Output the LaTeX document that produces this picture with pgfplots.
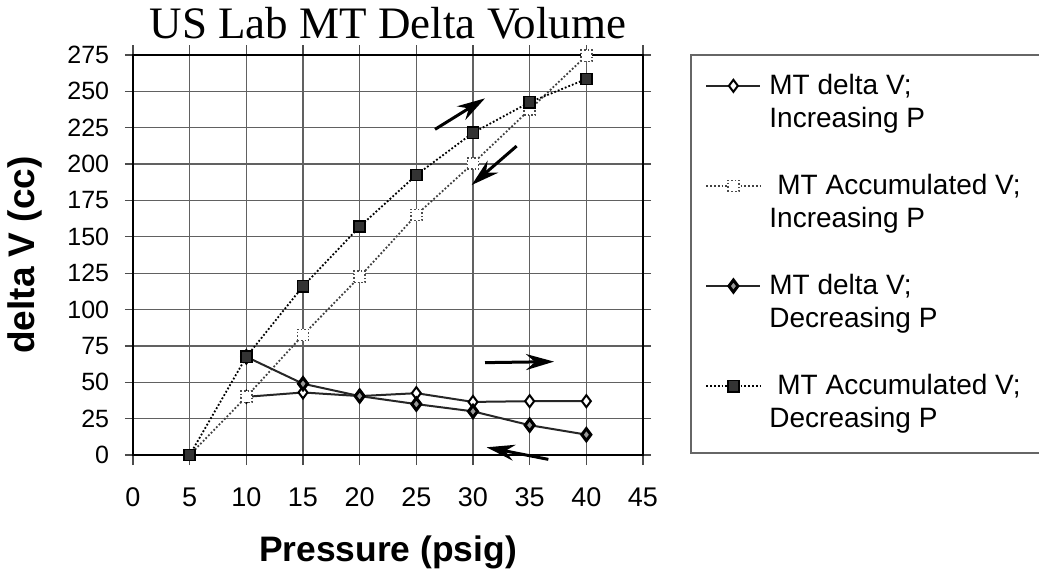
\documentclass[border=0pt]{standalone}
\usepackage{pgfplots}
\pgfplotsset{compat=1.18}
\usepackage{fontspec}
\setmainfont{Liberation Sans}
\newfontfamily\seriffont{Liberation Serif}
\usetikzlibrary{arrows.meta}
\newcommand{\lgtwo}[3]{\vtop{\hbox{\hspace*{#3}#1}\hbox{#2}}}
\begin{document}
\begin{tikzpicture}
\path[use as bounding box] (-66.5pt,-57.5pt) rectangle (453pt,227.5pt);
\begin{axis}[
  at={(0,0)}, anchor=south west,
  scale only axis, width=255pt, height=200pt,
  xmin=0, xmax=45, ymin=0, ymax=275,
  xtick={0,5,...,45}, ytick={0,25,...,275},
  grid=major,
  major grid style={black!62, line width=0.6pt},
  axis line style={black, line width=1.3pt},
  tick align=outside,
  xtick style={black!70, line width=0.6pt, /pgfplots/major tick length=5pt},
  ytick style={black!70, line width=0.6pt, /pgfplots/major tick length=4pt},
  /pgf/number format/assume math mode=true,
  yticklabel={\makebox[0pt][r]{\pgfmathprintnumber{\tick}\hspace{7pt}}},
  yticklabel style={font=\fontsize{12.5}{14}\selectfont, anchor=east, inner sep=0pt},
  xticklabel style={font=\fontsize{13.5}{15}\selectfont, anchor=north, inner sep=0pt, yshift=-12pt},
  title={\seriffont US Lab MT Delta Volume},
  title style={font=\fontsize{22.5}{26}\selectfont, at={(axis description cs:0.5,1.0125)}, anchor=base, inner sep=0pt},
  xlabel={Pressure (psig)},
  xlabel style={font=\fontsize{17.7}{20}\selectfont\bfseries, at={(axis description cs:0.5,-0.265)}, anchor=base, inner sep=0pt},
  ylabel={delta V (cc)},
  ylabel style={font=\fontsize{18.5}{20}\selectfont\bfseries, at={(axis description cs:-0.1922,0.5)}, anchor=base, inner sep=0pt, rotate=0},
  clip=false,
  legend cell align=left,
  legend image code/.code={\draw[mark repeat=2,mark phase=2,#1] plot coordinates {(0pt,0pt) (13.5pt,0pt) (27pt,0pt)};},
  legend style={draw=none, fill=none, at={(1.1216,0.953)}, anchor=north west,
    inner sep=0pt, row sep=38.4pt, column sep=4pt,
    nodes={inner sep=0pt},
    font=\fontsize{14}{16.5}\selectfont},
]
\addplot[black!85, line width=1pt, mark=diamond*, mark size=3pt,
  mark options={fill=white, draw=black, line width=1pt, solid}]
  coordinates {(10,40)(15,43)(20,40.5)(25,42.5)(30,36.5)(35,37)(40,37)};
\addlegendentry{\lgtwo{MT delta V;}{Increasing P}{0pt}}
\addplot[black!75, densely dotted, line width=0.9pt, mark=square*, mark size=2.8pt,
  mark options={fill=white, draw=black!70, line width=0.8pt, densely dotted}]
  coordinates {(5,0)(10,40)(15,82.5)(20,122.5)(25,165)(30,200.5)(35,237.5)(40,274.5)};
\addlegendentry{\lgtwo{MT Accumulated V;}{Increasing P}{4pt}}
\addplot[black!85, line width=1pt, mark=diamond*, mark size=3pt,
  mark options={fill=black!40, draw=black, line width=1.5pt, solid}]
  coordinates {(10,67.5)(15,49)(20,40.5)(25,35)(30,30)(35,20.5)(40,14)};
\addlegendentry{\lgtwo{MT delta V;}{Decreasing P}{0pt}}
\addplot[black, densely dotted, line width=0.9pt, mark=square*, mark size=2.8pt,
  mark options={fill=black!80, draw=black, line width=0.8pt, solid}]
  coordinates {(5,0)(10,67.5)(15,116)(20,157)(25,192.5)(30,221.5)(35,242.5)(40,258.5)};
\addlegendentry{\lgtwo{MT Accumulated V;}{Decreasing P}{4pt}}
% direction arrows
\draw[line width=1.5pt, -{Stealth[length=14pt, width=8pt, inset=4.5pt]}] (axis cs:26.65,223.9) -- (axis cs:31.06,245.2);
\draw[line width=1.5pt, -{Stealth[length=14pt, width=8pt, inset=4.5pt]}] (axis cs:33.85,212.4) -- (axis cs:29.88,185.6);
\draw[line width=1.5pt, -{Stealth[length=14pt, width=8pt, inset=4.5pt]}] (axis cs:31.06,63.5) -- (axis cs:37.15,64.2);
\draw[line width=1.5pt, -{Stealth[length=14pt, width=8pt, inset=4.5pt]}] (axis cs:36.65,-3) -- (axis cs:31.2,5.3);
% legend frame
\draw[black!60, line width=0.6pt] (axis description cs:1.0941,0.005) rectangle (axis description cs:1.8,1);
\end{axis}
\end{tikzpicture}
\end{document}
